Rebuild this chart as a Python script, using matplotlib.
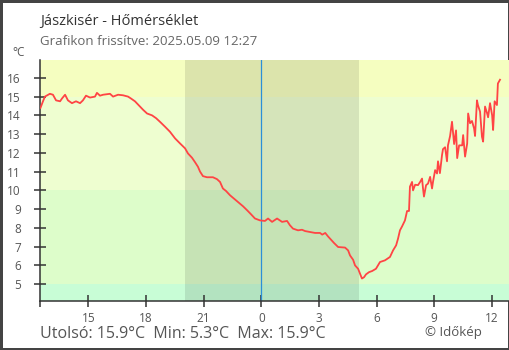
import matplotlib
matplotlib.use('Agg')
import matplotlib.pyplot as plt

plt.rcParams['font.family'] = ['Open Sans', 'DejaVu Sans']

# hours relative to midnight (negative = previous day)
hours = [-11.50, -11.37, -11.27, -11.01, -10.85, -10.69, -10.48, -10.38, -10.22, -10.07,
         -9.86, -9.65, -9.44, -9.29, -9.13, -8.92, -8.66, -8.56, -8.40, -8.24,
         -7.88, -7.72, -7.46, -7.20, -6.94, -6.79, -6.58, -6.32, -6.16, -5.95,
         -5.69, -5.48, -5.27, -5.02, -4.76, -4.49, -4.23, -3.97, -3.82, -3.61,
         -3.45, -3.30, -3.19, -3.04, -2.83, -2.52, -2.31, -2.15, -2.00, -1.84,
         -1.63, -1.42, -1.21, -0.95, -0.74, -0.54, -0.33, -0.07, 0.19, 0.35,
         0.56, 0.82, 1.08, 1.34, 1.49, 1.65, 1.91, 2.12, 2.28, 2.54,
         2.80, 3.06, 3.17, 3.33, 3.47, 3.63, 3.79, 4.00, 4.36, 4.52,
         4.62, 4.78, 4.88, 5.04, 5.14, 5.24, 5.35, 5.45, 5.61, 5.77,
         5.97, 6.18, 6.44, 6.70, 6.86, 7.02, 7.12, 7.22, 7.33, 7.48,
         7.59, 7.69, 7.74, 7.85, 7.90, 8.01, 8.16, 8.27, 8.37, 8.42,
         8.47, 8.58, 8.68, 8.79, 8.89, 8.94, 9.05, 9.15, 9.20, 9.30,
         9.41, 9.46, 9.57, 9.67, 9.72, 9.83, 9.93, 10.04, 10.14, 10.20,
         10.30, 10.46, 10.51, 10.61, 10.72, 10.77, 10.87, 10.97, 11.08, 11.13,
         11.23, 11.28, 11.39, 11.49, 11.55, 11.65, 11.76, 11.81, 11.91, 12.02,
         12.07, 12.15, 12.27, 12.32, 12.43]
temps = [14.4, 14.75, 15.0, 15.15, 15.1, 14.8, 14.75, 14.9, 15.1, 14.8,
         14.65, 14.75, 14.65, 14.8, 15.05, 14.95, 15.0, 15.2, 15.05, 15.1,
         15.15, 15.0, 15.1, 15.07, 15.0, 14.9, 14.75, 14.47, 14.3, 14.1,
         14.0, 13.85, 13.65, 13.4, 13.13, 12.77, 12.5, 12.24, 11.97, 11.74,
         11.5, 11.26, 11.0, 10.76, 10.7, 10.7, 10.6, 10.45, 10.1, 9.97,
         9.74, 9.56, 9.38, 9.15, 8.94, 8.73, 8.5, 8.4, 8.37, 8.5,
         8.32, 8.5, 8.32, 8.37, 8.14, 7.96, 7.87, 7.9, 7.83, 7.78,
         7.73, 7.73, 7.64, 7.73, 7.55, 7.37, 7.19, 6.98, 6.95, 6.8,
         6.53, 6.3, 6.0, 5.82, 5.56, 5.3, 5.37, 5.52, 5.64, 5.7,
         5.82, 6.18, 6.27, 6.45, 6.8, 7.07, 7.43, 7.87, 8.08, 8.4,
         8.9, 8.9, 10.2, 10.45, 10.0, 10.3, 10.28, 10.45, 10.63, 10.1,
         9.67, 10.28, 10.36, 10.72, 10.1, 10.45, 11.08, 10.9, 11.55, 10.92,
         11.88, 12.2, 12.3, 11.55, 12.4, 12.9, 13.66, 12.47, 13.2, 11.72,
         12.4, 12.4, 12.95, 11.8, 12.5, 14.1, 13.58, 13.7, 13.3, 12.9,
         14.8, 14.55, 14.2, 12.86, 12.6, 14.47, 14.1, 13.9, 14.65, 14.0,
         13.22, 14.75, 14.55, 15.7, 15.9]

tick_pos = [-9, -6, -3, 0, 3, 6, 9, 12]
tick_lab = ['15', '18', '21', '0', '3', '6', '9', '12']
yticks = [5, 6, 7, 8, 9, 10, 11, 12, 13, 14, 15, 16]

bands = [(0, 5, '#c8fdd6'), (5, 10, '#ddfdca'), (10, 15, '#eefed0'), (15, 30, '#f5fec0')]
night = (-3.97, 5.09)

fig = plt.figure(figsize=(5.1, 3.5), dpi=100, edgecolor='#444444', linewidth=2.5)
ax = fig.add_axes([0.079, 0.141, 0.921, 0.688])

for lo, hi, c in bands:
    ax.axhspan(lo, hi, color=c, lw=0, zorder=0)
ax.axvspan(night[0], night[1], color='black', alpha=0.1, lw=0, zorder=1)
ax.axvline(0, color='#2b8fd8', lw=0.9, zorder=2)
ax.plot(hours, temps, color='#ff4444', lw=1.3, zorder=3)

ax.set_xlim(-11.51, 12.95)
ax.set_ylim(4.12, 16.96)
for s in ['top', 'right']:
    ax.spines[s].set_visible(False)
for s in ['left', 'bottom']:
    ax.spines[s].set_color('#333333')
    ax.spines[s].set_linewidth(1.1)

ax.set_xticks(tick_pos)
ax.set_xticklabels(tick_lab)
ax.set_yticks(yticks)
ax.set_xticks([-11.51], minor=True)
ax.tick_params(axis='x', which='minor', direction='out', length=4.5, width=1.1, color='#333333')
ax.tick_params(axis='both', which='major', direction='inout', length=9, width=1.1,
               color='#333333', labelcolor='#555555', labelsize=8.5)
ax.tick_params(axis='y', pad=9.5)
ax.tick_params(axis='x', pad=3.5)

fig.text(0.079, 0.928, 'Jászkisér - Hőmérséklet', fontsize=10.5, color='#333333', va='baseline')
fig.text(0.079, 0.871, 'Grafikon frissítve: 2025.05.09 12:27', fontsize=9.5, color='#666666', va='baseline')
fig.text(0.024, 0.84, '°C', fontsize=8.5, color='#555555', va='baseline')
fig.text(0.079, 0.035, 'Utolsó: 15.9°C  Min: 5.3°C  Max: 15.9°C', fontsize=11.5, color='#555555', va='baseline')
fig.text(0.833, 0.04, '© Időkép', fontsize=9.5, color='#555555', va='baseline')

fig.savefig('out.png', dpi=100, edgecolor=fig.get_edgecolor())
